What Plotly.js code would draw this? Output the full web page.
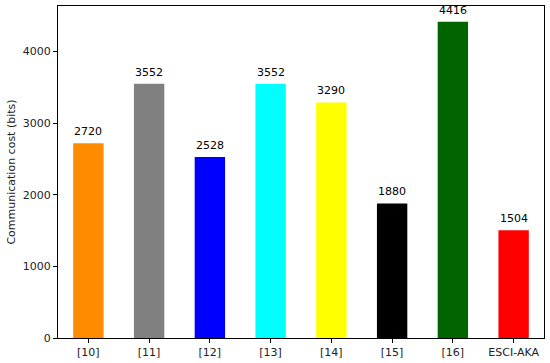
<!DOCTYPE html>
<html>
<head>
<meta charset="utf-8">
<script src="https://cdn.plot.ly/plotly-3.0.1.min.js"></script>
<style>html,body{margin:0;padding:0;background:#fff;}#chart{width:550px;height:363px;}</style>
</head>
<body>
<div id="chart"></div>
<script>
const categories = ["[10]", "[11]", "[12]", "[13]", "[14]", "[15]", "[16]", "ESCI-AKA"];
const costs = [2720, 3552, 2528, 3552, 3290, 1880, 4416, 1504];
const barColors = ["#ff8c00", "#808080", "#0000ff", "#00ffff", "#ffff00", "#000000", "#006400", "#ff0000"];

const font = {family: "DejaVu Sans, sans-serif", size: 11, color: "#222"};
const positions = categories.map((c, i) => i);
const trace = {
  type: "bar",
  x: positions,
  y: costs,
  width: 0.5,
  marker: {color: barColors, line: {width: 0}},
  hoverinfo: "none"
};
const annotations = costs.map((v, i) => ({
  x: positions[i], y: v, xref: "x", yref: "y",
  text: String(v), showarrow: false,
  xanchor: "center", yanchor: "bottom", yshift: 3,
  font: {family: "DejaVu Sans, sans-serif", size: 11, color: "#000"}
}));
const layout = {
  width: 550, height: 363,
  margin: {l: 58, r: 6, t: 6, b: 25},
  paper_bgcolor: "#fff", plot_bgcolor: "#fff",
  showlegend: false,
  font: font,
  annotations: annotations,
  xaxis: {
    range: [-0.5, 7.5],
    tickmode: "array",
    tickvals: positions,
    ticktext: categories,
    ticks: "outside", ticklen: 4, tickcolor: "#000",
    showline: true, linecolor: "#000", linewidth: 1, mirror: true,
    showgrid: false, zeroline: false,
    tickfont: font
  },
  yaxis: {
    range: [0, 4637],
    tickvals: [0, 1000, 2000, 3000, 4000],
    ticks: "outside", ticklen: 4, tickcolor: "#000",
    showline: true, linecolor: "#000", linewidth: 1, mirror: true,
    showgrid: false, zeroline: false,
    tickfont: font,
    title: {text: "Communication cost (bits)", font: font, standoff: 4}
  }
};
Plotly.newPlot("chart", [trace], layout, {displayModeBar: false, staticPlot: true});
</script>
</body>
</html>
